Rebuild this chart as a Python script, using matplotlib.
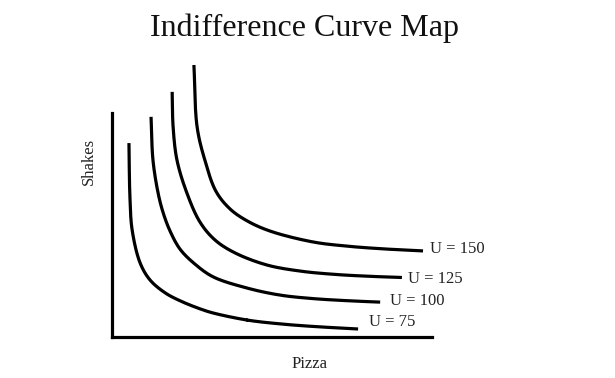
import matplotlib
matplotlib.use("Agg")
import matplotlib.pyplot as plt
import numpy as np

plt.rcParams['font.family'] = ['Liberation Serif', 'DejaVu Serif']

# indifference curves (pizza, shakes)
pizza_75 = [0.53, 0.56, 0.63, 0.88, 1.19, 1.66, 2.13, 2.75, 3.16, 4.22, 5.25, 6.28, 7.69]
shakes_75 = [6.06, 4.38, 3.34, 2.31, 1.78, 1.38, 1.13, 0.88, 0.75, 0.53, 0.41, 0.33, 0.25]

pizza_100 = [1.22, 1.28, 1.44, 1.59, 1.81, 2.13, 2.59, 3.16, 4.22, 5.25, 6.28, 7.44, 8.38]
shakes_100 = [6.88, 5.53, 4.50, 3.91, 3.32, 2.74, 2.28, 1.88, 1.53, 1.31, 1.20, 1.13, 1.09]

pizza_125 = [1.88, 1.91, 2.03, 2.34, 2.75, 3.22, 3.84, 4.84, 5.88, 6.91, 7.97, 9.06]
shakes_125 = [7.66, 6.56, 5.53, 4.50, 3.59, 3.03, 2.63, 2.25, 2.06, 1.96, 1.90, 1.86]

pizza_150 = [2.56, 2.66, 2.91, 3.25, 3.69, 4.22, 4.94, 6.28, 7.34, 8.38, 9.72]
shakes_150 = [8.50, 6.56, 5.50, 4.55, 4.00, 3.63, 3.31, 2.97, 2.84, 2.76, 2.69]

curves = [(pizza_75, shakes_75), (pizza_100, shakes_100),
          (pizza_125, shakes_125), (pizza_150, shakes_150)]
utility = [75, 100, 125, 150]


def smooth(xs, ys, n=20):
    # centripetal catmull-rom through the read points, just for drawing
    P = np.column_stack([xs, ys]).astype(float)
    P = np.vstack([2 * P[0] - P[1], P, 2 * P[-1] - P[-2]])
    out = []
    for i in range(1, len(P) - 2):
        p0, p1, p2, p3 = P[i - 1], P[i], P[i + 1], P[i + 2]
        t0 = 0.0
        t1 = t0 + np.linalg.norm(p1 - p0) ** 0.5
        t2 = t1 + np.linalg.norm(p2 - p1) ** 0.5
        t3 = t2 + np.linalg.norm(p3 - p2) ** 0.5
        t = np.linspace(t1, t2, n)[:, None]
        A1 = (t1 - t) / (t1 - t0) * p0 + (t - t0) / (t1 - t0) * p1
        A2 = (t2 - t) / (t2 - t1) * p1 + (t - t1) / (t2 - t1) * p2
        A3 = (t3 - t) / (t3 - t2) * p2 + (t - t2) / (t3 - t2) * p3
        B1 = (t2 - t) / (t2 - t0) * A1 + (t - t0) / (t2 - t0) * A2
        B2 = (t3 - t) / (t3 - t1) * A2 + (t - t1) / (t3 - t1) * A3
        out.append((t2 - t) / (t2 - t1) * B1 + (t - t1) / (t2 - t1) * B2)
    C = np.vstack(out)
    return C[:, 0], C[:, 1]


fig = plt.figure(figsize=(6.15, 3.78), dpi=100)
ax = fig.add_axes([112 / 615, 41 / 378, 320 / 615, 224 / 378])
ax.set_xlim(0, 10)
ax.set_ylim(0, 7)

# label offsets from curve end, in points
label_off = [(8, 5), (7, 1), (4.5, -1), (5, 1.5)]

for (xs, ys), u, off in zip(curves, utility, label_off):
    sx, sy = smooth(xs, ys)
    ax.plot(sx, sy, color='black', lw=2.3, clip_on=False, solid_capstyle='butt')
    ax.annotate("U = " + str(u), xy=(xs[-1], ys[-1]), xytext=off,
                textcoords='offset points', ha='left', va='center',
                fontsize=12, color='#222222', annotation_clip=False)

for side in ['top', 'right']:
    ax.spines[side].set_visible(False)
for side in ['left', 'bottom']:
    ax.spines[side].set_linewidth(2.3)
    ax.spines[side].set_color('black')
ax.set_xticks([])
ax.set_yticks([])

ax.set_xlabel("Pizza", fontsize=12, color='#222222')
ax.xaxis.set_label_coords((310 - 112) / 320, -(356 - 337) / 224)
ax.set_ylabel("Shakes", fontsize=12, color='#222222')
ax.yaxis.set_label_coords(-(112 - 97) / 320, (337 - 161) / 224)

fig.text(305 / 615, 342 / 378, "Indifference Curve Map", ha='center',
         va='baseline', fontsize=23, color='#111111')

fig.savefig("out.png", dpi=100)
